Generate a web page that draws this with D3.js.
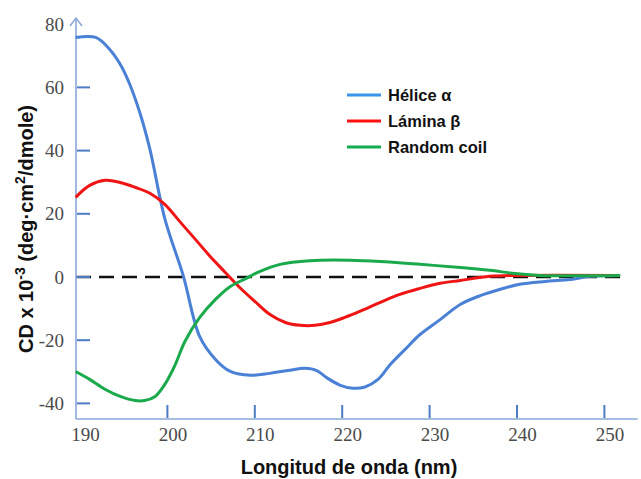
<!DOCTYPE html>
<html><head><meta charset="utf-8">
<script src="https://cdn.jsdelivr.net/npm/d3@7"></script>
<style>body{margin:0;background:#fff}svg{display:block}</style>
</head><body>
<svg id="c" width="641" height="479"></svg>
<script>
// Data (wavelength nm, CD x 10^-3)
const heliceNm  = [189.5,191.8,193.4,194.6,195.7,196.9,198.0,199.7,201.8,203.7,205.5,207.2,209.5,211.7,214.0,215.7,217.1,218.3,219.8,221.2,222.6,224.1,225.5,227.2,228.9,231.2,233.5,235.8,238.1,240.3,243.2,246.1,248.4,251.8];
const heliceVal = [75.8,75.8,72.0,67.3,60.9,51.5,40.4,18.5,0.5,-18.9,-26.1,-29.9,-31.1,-30.5,-29.5,-28.9,-29.6,-32.0,-34.3,-35.2,-34.8,-32.4,-27.7,-22.9,-18.2,-13.5,-8.7,-5.9,-3.9,-2.3,-1.4,-0.8,0.2,0.5];
const laminaNm  = [189.5,191.1,192.9,194.6,196.3,198.0,199.7,201.4,203.2,204.9,206.6,208.3,210.0,211.7,213.5,215.2,216.9,218.6,220.3,222.0,224.3,226.6,228.9,231.2,233.5,236.9,240.3,251.8];
const laminaVal = [25.2,29.0,30.6,29.9,28.4,26.5,23.0,17.6,11.9,6.5,1.5,-3.4,-7.7,-11.8,-14.4,-15.3,-15.3,-14.4,-12.8,-10.9,-8.1,-5.5,-3.6,-2.0,-1.1,0.2,0.5,0.5];
const coilNm    = [189.5,191.1,192.9,194.6,196.3,197.4,198.6,199.7,200.9,202.0,203.7,205.5,207.2,208.9,210.6,212.9,215.2,217.5,220.9,224.3,228.9,233.5,236.9,239.8,242.6,251.8];
const coilVal   = [-29.9,-32.4,-35.6,-37.8,-39.1,-39.1,-37.8,-34.0,-27.7,-20.4,-12.8,-7.1,-3.0,-0.6,1.8,4.0,4.9,5.3,5.3,4.9,4.0,3.0,2.1,1.1,0.5,0.5];
const xTicks = [190,200,210,220,230,240,250];
const yTicks = [-40,-20,0,20,40,60,80];
const seriesNames = ["Hélice α","Lámina β","Random coil"];
const curveColors = ["#4a80d6","#f01515","#1aaa4c"];
const legendColors = ["#3b93ea","#ff1010","#14aa50"];

const svg = d3.select("#c");
const x = d3.scaleLinear().domain([189.54,253.8]).range([76,637.6]);
const y = d3.scaleLinear().domain([-44.94,81.96]).range([419,18]);
const axisColor = "#8aa8d8", tickColor = "#4d7cc4";

// zero dashed line
svg.append("line").attr("x1",x(189.54)).attr("x2",x(251.8)).attr("y1",y(0)).attr("y2",y(0))
  .attr("stroke","#111").attr("stroke-width",2.5).attr("stroke-dasharray","15,8");

// axes lines
svg.append("line").attr("x1",76).attr("x2",76).attr("y1",y(-44.94)).attr("y2",y(81.96)).attr("stroke",axisColor).attr("stroke-width",1.6);
svg.append("line").attr("x1",76).attr("x2",x(253.8)).attr("y1",419).attr("y2",419).attr("stroke",axisColor).attr("stroke-width",1.6);
svg.append("path").attr("d",`M${76-6},${y(81.96)+8}L76,${y(81.96)}L${76+6},${y(81.96)+8}`).attr("fill","none").attr("stroke",axisColor).attr("stroke-width",1.5);

const fmt = d => String(d);

// y axis ticks (inside) + labels
const yAxis = d3.axisLeft(y).tickValues(yTicks).tickSize(0).tickPadding(12).tickFormat(fmt);
const gy = svg.append("g").attr("transform","translate(76,0)").call(yAxis);
gy.select(".domain").remove();
gy.selectAll("text").attr("font-family","Liberation Serif, serif").attr("font-size",19).attr("fill","#4a4a4a");
yTicks.filter(t=>t!==80).forEach(t=>{
  svg.append("line").attr("x1",77).attr("x2",90).attr("y1",y(t)).attr("y2",y(t)).attr("stroke",tickColor).attr("stroke-width",2);
});

// x axis labels + ticks (inside)
const xAxis = d3.axisBottom(x).tickValues(xTicks).tickSize(0).tickPadding(9).tickFormat(fmt);
const gx = svg.append("g").attr("transform","translate(5,419)").call(xAxis);
gx.select(".domain").remove();
gx.selectAll("text").attr("font-family","Liberation Serif, serif").attr("font-size",19).attr("fill","#4a4a4a");
xTicks.filter(t=>t!==190).forEach(t=>{
  svg.append("line").attr("x1",x(t)).attr("x2",x(t)).attr("y1",418).attr("y2",405).attr("stroke",tickColor).attr("stroke-width",2);
});

// curves
const line = d3.line().x(d=>x(d[0])).y(d=>y(d[1])).curve(d3.curveCatmullRom.alpha(0.5));
const series = [[heliceNm,heliceVal],[laminaNm,laminaVal],[coilNm,coilVal]];
series.forEach((s,i)=>{
  const pts = s[0].map((n,j)=>[n,s[1][j]]);
  svg.append("path").attr("d",line(pts)).attr("fill","none").attr("stroke",curveColors[i]).attr("stroke-width",3).attr("stroke-linejoin","round");
});

// legend
seriesNames.forEach((n,i)=>{
  const ly = 95 + i*26;
  svg.append("line").attr("x1",347).attr("x2",381).attr("y1",ly).attr("y2",ly).attr("stroke",legendColors[i]).attr("stroke-width",3);
  svg.append("text").attr("x",388).attr("y",ly).attr("dy","0.35em").attr("font-family","Liberation Sans, Arial, sans-serif")
    .attr("font-weight","bold").attr("font-size",16.5).attr("fill","#111").text(n);
});

// axis titles
svg.append("text").attr("x",349).attr("y",474).attr("text-anchor","middle").attr("font-family","Liberation Sans, Arial, sans-serif")
  .attr("font-weight","bold").attr("font-size",20).attr("fill","#111").text("Longitud de onda (nm)");
const yt = svg.append("text").attr("transform","translate(33,229) rotate(-90)").attr("text-anchor","middle")
  .attr("font-family","Liberation Sans, Arial, sans-serif").attr("font-weight","bold").attr("font-size",20).attr("fill","#111");
yt.append("tspan").text("CD x 10");
yt.append("tspan").attr("font-size",14).attr("dy",-8).text("-3");
yt.append("tspan").attr("dy",8).text(" (deg·cm");
yt.append("tspan").attr("font-size",14).attr("dy",-8).text("2");
yt.append("tspan").attr("dy",8).text("/dmole)");
</script>
</body></html>
